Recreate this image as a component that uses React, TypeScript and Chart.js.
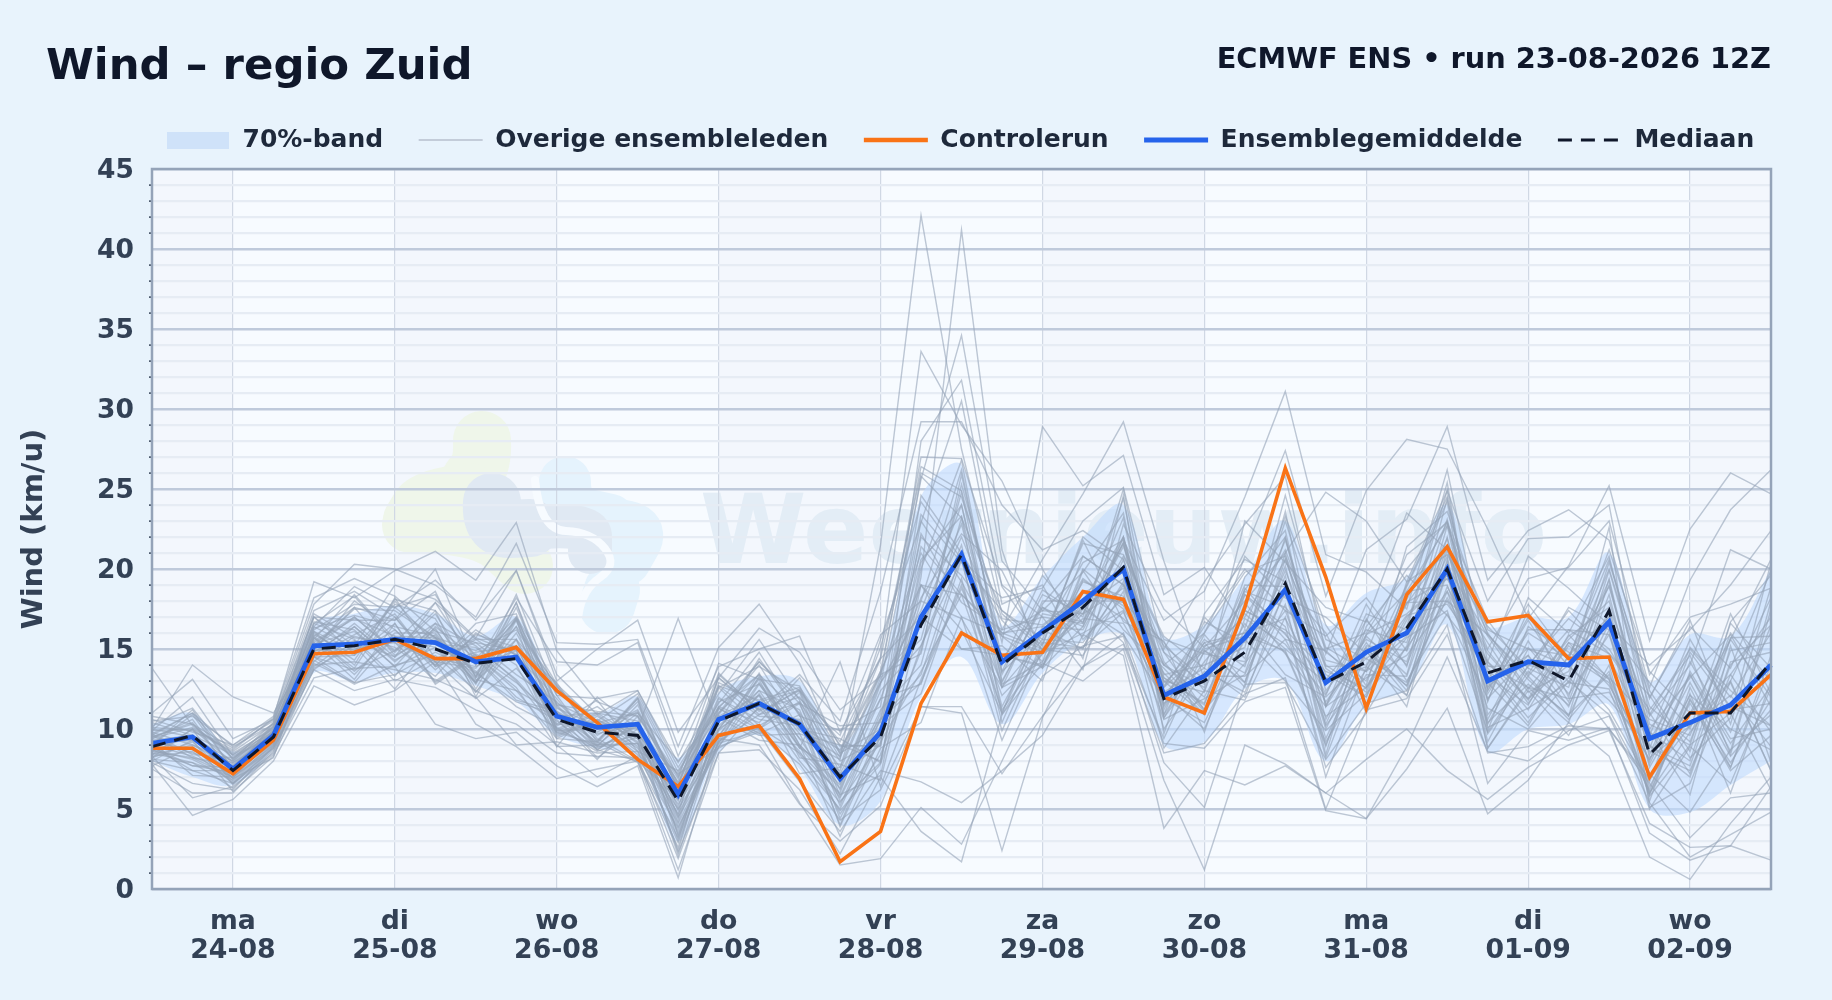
import React, { useEffect, useRef } from "react";
import { Chart, registerables } from "chart.js";

Chart.register(...registerables);

const dayNames = ["ma", "di", "wo", "do", "vr", "za", "zo", "ma", "di", "wo"];
const dayDates = ["24-08", "25-08", "26-08", "27-08", "28-08", "29-08", "30-08", "31-08", "01-09", "02-09"];
const stepLabels = [
  "23-08 12Z", "23-08 18Z",
  "24-08 00Z", "24-08 06Z", "24-08 12Z", "24-08 18Z",
  "25-08 00Z", "25-08 06Z", "25-08 12Z", "25-08 18Z",
  "26-08 00Z", "26-08 06Z", "26-08 12Z", "26-08 18Z",
  "27-08 00Z", "27-08 06Z", "27-08 12Z", "27-08 18Z",
  "28-08 00Z", "28-08 06Z", "28-08 12Z", "28-08 18Z",
  "29-08 00Z", "29-08 06Z", "29-08 12Z", "29-08 18Z",
  "30-08 00Z", "30-08 06Z", "30-08 12Z", "30-08 18Z",
  "31-08 00Z", "31-08 06Z", "31-08 12Z", "31-08 18Z",
  "01-09 00Z", "01-09 06Z", "01-09 12Z", "01-09 18Z",
  "02-09 00Z", "02-09 06Z", "02-09 12Z",
];

const control = [8.8, 8.8, 7.2, 9.3, 14.7, 14.8, 15.6, 14.4, 14.4, 15.1, 12.4, 10.4, 8.1, 6.4, 9.6, 10.2, 6.9, 1.7, 3.6, 11.6, 16.0, 14.6, 14.8, 18.6, 18.1, 12.0, 11.0, 17.6, 26.3, 19.5, 11.3, 18.4, 21.4, 16.7, 17.1, 14.4, 14.5, 7.0, 11.0, 11.1, 13.4];
const mean = [9.1, 9.5, 7.5, 9.6, 15.2, 15.3, 15.6, 15.4, 14.2, 14.5, 10.8, 10.1, 10.3, 5.9, 10.6, 11.6, 10.3, 6.9, 9.8, 17.0, 20.9, 14.2, 16.1, 18.0, 20.0, 12.1, 13.3, 15.7, 18.7, 12.9, 14.8, 16.0, 20.0, 13.0, 14.2, 14.0, 16.7, 9.4, 10.4, 11.5, 14.0];
const median = [8.9, 9.6, 7.4, 9.5, 15.0, 15.2, 15.6, 15.0, 14.1, 14.4, 10.6, 9.8, 9.6, 5.5, 10.5, 11.6, 10.3, 7.0, 9.5, 16.5, 20.9, 14.0, 16.0, 17.6, 20.1, 11.9, 13.0, 14.8, 19.1, 12.9, 14.2, 16.3, 20.0, 13.5, 14.3, 13.0, 17.4, 8.4, 11.0, 11.0, 14.2];
const bandUpper = [10.3, 11.0, 8.6, 10.2, 16.5, 17.2, 17.7, 17.2, 15.8, 17.0, 12.5, 11.0, 12.0, 8.2, 12.3, 13.3, 13.0, 9.0, 13.5, 24.5, 26.5, 16.5, 19.5, 22.0, 24.0, 15.8, 16.5, 19.5, 23.0, 16.5, 18.5, 19.5, 24.0, 16.5, 17.0, 17.0, 21.0, 13.0, 15.9, 15.8, 20.0];
const bandLower = [8.0, 7.0, 6.5, 8.8, 13.5, 13.0, 13.5, 13.5, 12.7, 11.7, 9.6, 8.8, 8.2, 3.0, 8.5, 9.6, 7.5, 4.0, 5.5, 12.0, 14.5, 10.3, 13.5, 15.5, 15.8, 9.0, 9.2, 12.5, 13.0, 8.0, 11.5, 12.5, 16.5, 8.6, 10.0, 10.3, 11.5, 5.0, 4.8, 6.5, 8.0];

const m01 = [10.2, 11.3, 8.1, 10.0, 16.3, 17.1, 16.4, 15.8, 13.2, 15.6, 11.0, 9.8, 11.2, 6.6, 11.7, 12.8, 9.4, 8.1, 21.5, 42.1, 27.5, 17.2, 15.0, 17.6, 19.4, 10.9, 14.8, 17.0, 21.2, 14.3, 13.6, 15.8, 21.5, 12.6, 15.1, 12.2, 15.9, 7.8, 13.4, 9.1, 12.7];
const m02 = [8.7, 8.1, 6.8, 9.2, 14.5, 13.7, 14.9, 16.6, 15.2, 13.0, 9.8, 10.6, 8.9, 4.1, 9.2, 10.9, 11.6, 5.5, 7.9, 19.5, 41.2, 21.2, 13.8, 16.4, 21.6, 14.2, 11.2, 14.1, 17.4, 10.3, 15.9, 17.2, 19.4, 14.7, 11.9, 15.8, 17.6, 11.0, 7.2, 14.0, 16.5];
const m03 = [9.5, 10.4, 7.2, 10.4, 17.4, 18.6, 17.0, 14.2, 13.8, 16.9, 12.1, 8.7, 10.4, 5.1, 12.6, 13.9, 12.4, 9.2, 14.5, 33.6, 29.0, 25.5, 20.0, 15.6, 18.2, 13.0, 12.3, 19.5, 22.4, 11.4, 13.2, 14.6, 18.0, 15.9, 13.1, 10.8, 19.4, 8.8, 15.1, 12.4, 10.2];
const m04 = [7.9, 6.6, 6.2, 8.9, 13.9, 15.8, 15.1, 13.3, 16.0, 14.6, 10.2, 11.4, 9.6, 7.2, 8.8, 10.1, 8.5, 6.0, 12.8, 25.6, 34.6, 20.5, 17.4, 19.8, 23.5, 11.2, 15.9, 12.9, 20.6, 13.8, 12.0, 18.9, 24.2, 9.9, 16.4, 14.8, 13.1, 6.0, 11.9, 7.4, 9.6];
const m05 = [9.9, 12.0, 8.3, 9.6, 15.9, 14.6, 18.1, 17.4, 14.6, 12.4, 9.4, 9.2, 11.9, 3.3, 10.4, 14.4, 10.9, 3.9, 9.5, 28.0, 31.8, 18.9, 15.3, 21.8, 16.7, 15.5, 9.8, 16.9, 15.3, 12.1, 17.8, 13.9, 22.7, 11.7, 18.2, 16.0, 20.8, 10.3, 9.0, 16.6, 13.8];
const m06 = [8.4, 9.0, 7.7, 9.9, 16.7, 16.2, 13.9, 15.1, 12.9, 17.6, 11.6, 10.4, 8.4, 6.0, 9.9, 12.1, 7.2, 7.6, 15.6, 22.9, 30.5, 17.8, 19.0, 14.4, 24.6, 9.7, 17.2, 20.6, 19.2, 8.9, 16.4, 19.6, 17.1, 13.8, 10.7, 13.2, 22.6, 5.1, 6.6, 13.0, 18.2];
const m07 = [10.6, 9.8, 9.0, 10.8, 18.2, 19.4, 18.3, 16.1, 15.4, 14.9, 8.9, 12.0, 10.0, 4.6, 13.4, 11.2, 13.4, 10.5, 18.6, 29.2, 29.2, 24.0, 21.2, 22.4, 20.6, 13.4, 14.0, 15.1, 24.6, 15.6, 14.4, 16.4, 25.4, 10.9, 13.9, 17.4, 14.7, 12.1, 8.2, 10.7, 20.4];
const m08 = [8.0, 7.4, 6.6, 9.0, 14.1, 12.9, 13.4, 14.8, 13.5, 11.7, 10.9, 8.9, 9.1, 2.4, 10.8, 9.6, 9.7, 4.7, 8.4, 14.9, 25.3, 16.2, 20.6, 24.7, 29.2, 20.5, 13.1, 18.4, 16.4, 7.6, 11.0, 15.2, 20.8, 8.8, 12.6, 11.9, 12.3, 8.1, 12.9, 8.3, 11.2];
const m09 = [9.3, 8.5, 7.9, 9.4, 15.4, 16.9, 15.8, 15.7, 14.9, 16.2, 12.7, 9.4, 8.0, 5.6, 11.9, 10.6, 10.2, 8.7, 13.6, 26.4, 24.9, 15.4, 28.9, 25.2, 27.1, 18.4, 20.1, 16.3, 23.3, 16.5, 12.7, 21.4, 23.6, 16.2, 15.0, 14.6, 18.9, 9.9, 5.9, 15.2, 7.9];
const m10 = [9.0, 11.2, 7.4, 10.2, 17.0, 15.2, 19.0, 18.1, 15.7, 19.9, 13.4, 10.9, 12.4, 7.9, 12.2, 15.6, 11.8, 6.6, 10.7, 20.6, 23.3, 13.6, 15.9, 20.4, 21.8, 16.8, 18.6, 24.5, 31.1, 20.9, 19.8, 17.5, 26.2, 14.2, 20.8, 18.8, 16.5, 14.0, 16.2, 19.0, 22.4];
const m11 = [8.2, 10.0, 8.7, 10.7, 19.2, 18.2, 19.9, 21.1, 19.3, 22.9, 14.9, 11.7, 10.8, 6.9, 14.1, 13.1, 12.7, 7.2, 11.9, 18.2, 22.2, 19.9, 14.8, 17.2, 18.8, 12.7, 16.0, 21.1, 27.4, 18.3, 24.9, 28.1, 27.5, 22.5, 16.9, 20.2, 25.2, 15.5, 22.5, 26.0, 24.7];
const m12 = [11.0, 13.1, 9.4, 10.6, 17.8, 20.3, 20.0, 19.0, 17.0, 21.6, 15.4, 15.3, 15.6, 8.9, 15.1, 17.8, 14.1, 8.4, 15.1, 24.2, 20.6, 18.2, 18.8, 23.0, 25.1, 15.0, 19.2, 22.8, 25.8, 14.7, 21.2, 23.1, 28.9, 19.3, 22.4, 23.7, 21.8, 12.6, 19.3, 23.7, 26.2];
const m13 = [13.8, 10.2, 8.4, 9.8, 16.4, 18.9, 17.6, 19.3, 16.8, 19.9, 13.0, 15.0, 16.8, 9.8, 13.2, 16.3, 14.8, 11.2, 13.3, 27.0, 26.9, 19.0, 17.0, 13.7, 22.8, 17.5, 15.1, 18.0, 21.0, 24.8, 23.0, 19.2, 24.9, 18.0, 21.9, 22.0, 24.0, 10.8, 14.0, 21.2, 20.0];
const m14 = [10.0, 14.0, 12.0, 11.0, 15.0, 17.6, 16.8, 20.0, 14.0, 18.2, 14.2, 14.0, 15.4, 8.3, 13.9, 15.0, 15.8, 9.8, 14.4, 26.0, 24.5, 16.9, 16.5, 18.5, 19.8, 14.8, 12.8, 23.0, 20.4, 17.6, 16.7, 23.5, 21.2, 15.0, 19.4, 20.1, 23.0, 13.4, 17.0, 17.8, 18.8];
const m15 = [8.6, 9.6, 6.9, 9.7, 14.9, 15.5, 14.5, 16.3, 12.3, 15.2, 11.3, 10.2, 10.0, 16.9, 10.2, 12.4, 8.8, 14.2, 6.4, 13.1, 19.0, 12.1, 14.7, 16.0, 17.4, 10.6, 11.9, 13.4, 18.5, 10.0, 15.2, 14.9, 19.9, 10.4, 12.8, 10.9, 13.4, 7.2, 4.8, 8.7, 10.9];
const m16 = [7.5, 6.0, 6.0, 8.6, 13.7, 12.4, 13.1, 12.6, 11.2, 10.3, 8.5, 8.3, 8.2, 1.9, 8.9, 9.8, 5.4, 1.5, 1.9, 5.1, 2.8, 8.0, 13.3, 15.2, 15.8, 7.9, 5.1, 12.8, 12.9, 8.1, 11.6, 12.4, 16.5, 6.6, 9.9, 9.3, 10.1, 3.5, 1.8, 2.7, 6.4];
const m17 = [7.8, 4.6, 5.6, 8.0, 12.7, 11.5, 12.4, 14.2, 10.3, 8.9, 6.9, 7.5, 8.0, 1.2, 8.5, 8.7, 6.2, 2.2, 7.0, 3.6, 1.7, 10.9, 14.1, 13.0, 15.0, 6.8, 1.2, 9.0, 7.8, 6.0, 4.4, 7.5, 11.3, 4.7, 6.8, 10.4, 8.3, 2.0, 0.6, 4.1, 7.0];
const m18 = [8.3, 5.7, 6.4, 8.4, 13.2, 13.8, 13.9, 10.3, 9.4, 9.8, 7.7, 6.4, 7.7, 0.7, 9.4, 9.0, 5.3, 3.0, 5.2, 11.4, 11.0, 2.4, 10.7, 15.9, 14.6, 3.8, 7.4, 6.5, 7.7, 6.0, 8.1, 10.0, 7.4, 5.6, 7.6, 9.0, 9.9, 4.1, 2.6, 2.7, 1.8];
const m19 = [9.2, 7.1, 7.0, 8.8, 14.0, 14.2, 13.7, 13.1, 12.0, 9.0, 9.2, 8.5, 8.6, 2.9, 9.7, 10.0, 6.7, 3.6, 7.4, 6.7, 5.4, 7.4, 9.6, 13.9, 16.0, 9.1, 8.8, 11.7, 12.6, 4.9, 4.4, 8.9, 14.5, 8.6, 8.0, 9.9, 10.8, 5.4, 2.0, 3.4, 4.8];
const m20 = [8.1, 7.9, 6.3, 8.7, 14.3, 12.8, 14.0, 14.6, 12.4, 11.0, 9.0, 7.0, 8.3, 3.8, 9.1, 9.9, 7.8, 4.3, 6.2, 11.4, 11.4, 7.2, 10.8, 13.9, 15.3, 8.5, 9.1, 12.2, 13.2, 5.0, 11.2, 11.9, 15.9, 8.5, 8.9, 10.2, 10.0, 6.6, 3.2, 5.7, 6.0];
const m21 = [9.8, 9.0, 8.0, 9.9, 15.8, 17.6, 14.6, 15.9, 12.9, 16.0, 11.4, 9.0, 11.0, 6.4, 13.2, 11.2, 12.0, 8.5, 10.0, 22.0, 19.6, 16.0, 15.0, 19.4, 17.5, 13.5, 10.9, 18.4, 15.6, 14.9, 12.5, 17.9, 19.4, 15.4, 11.6, 15.2, 13.2, 10.6, 9.6, 15.6, 12.0];
const m22 = [9.4, 10.6, 7.1, 9.5, 14.5, 15.9, 17.2, 13.9, 15.6, 14.0, 9.4, 10.6, 9.4, 4.4, 11.0, 13.4, 9.0, 6.3, 13.2, 15.6, 24.8, 13.0, 17.6, 15.8, 22.0, 11.4, 15.4, 12.6, 21.0, 10.6, 15.8, 13.4, 22.0, 10.6, 15.5, 11.7, 18.4, 8.4, 14.2, 9.8, 16.5];
const m23 = [8.9, 7.4, 7.4, 9.3, 15.7, 13.4, 16.0, 16.0, 13.1, 12.4, 11.0, 8.2, 10.0, 3.4, 9.6, 12.4, 11.2, 5.2, 11.0, 19.0, 16.2, 11.0, 16.4, 18.6, 16.9, 14.0, 12.0, 16.6, 13.4, 12.0, 14.4, 12.9, 18.2, 13.6, 10.4, 14.6, 12.9, 6.4, 11.0, 13.4, 9.8];
const m24 = [10.4, 9.6, 8.4, 10.1, 15.6, 18.4, 15.6, 14.0, 16.6, 17.2, 10.3, 11.8, 8.6, 7.4, 11.4, 10.4, 13.2, 8.9, 9.0, 24.6, 21.0, 16.8, 14.2, 20.8, 19.0, 15.2, 13.1, 19.0, 18.9, 16.0, 11.0, 19.2, 20.9, 16.4, 13.8, 12.6, 20.4, 12.4, 8.6, 16.7, 19.6];
const m25 = [8.8, 9.6, 6.7, 9.1, 14.2, 16.4, 14.3, 15.7, 13.0, 15.2, 9.9, 10.0, 9.7, 2.1, 10.0, 13.1, 8.2, 7.8, 6.8, 17.0, 15.0, 14.6, 13.9, 17.8, 15.4, 9.4, 14.9, 12.9, 19.6, 8.4, 16.9, 13.0, 17.2, 11.9, 14.6, 10.8, 16.2, 5.5, 12.6, 7.6, 14.6];
const m26 = [9.6, 8.2, 7.7, 9.8, 16.1, 14.0, 18.2, 14.4, 15.4, 13.4, 11.7, 9.3, 11.7, 6.2, 12.0, 10.0, 12.3, 5.8, 11.2, 14.0, 23.2, 11.0, 17.2, 16.7, 21.4, 14.8, 11.2, 17.4, 16.2, 13.6, 12.6, 17.0, 19.6, 14.9, 11.8, 15.4, 14.4, 9.6, 15.6, 11.2, 11.6];
const m27 = [9.0, 10.9, 7.5, 9.5, 15.1, 17.0, 14.9, 17.4, 12.0, 16.8, 9.9, 10.9, 9.1, 5.3, 9.3, 12.9, 9.7, 9.0, 8.9, 21.4, 18.4, 15.8, 14.8, 19.2, 18.3, 11.9, 15.6, 13.9, 22.0, 12.4, 15.6, 14.2, 21.4, 10.3, 15.0, 13.9, 11.8, 8.9, 7.7, 14.9, 15.4];
const m28 = [8.5, 7.9, 7.0, 9.0, 16.6, 15.6, 13.3, 16.4, 14.4, 11.8, 11.1, 8.7, 10.3, 4.9, 11.3, 10.0, 11.6, 6.2, 11.9, 12.8, 20.6, 10.4, 16.2, 15.0, 20.6, 13.0, 10.9, 16.2, 14.8, 9.0, 15.0, 12.7, 18.6, 14.0, 12.6, 10.4, 17.6, 7.6, 12.1, 10.0, 8.7];
const m29 = [10.1, 9.9, 8.6, 10.3, 14.9, 18.0, 16.2, 13.7, 15.9, 15.1, 12.9, 9.2, 12.0, 7.0, 10.9, 14.0, 10.0, 9.4, 7.9, 20.4, 24.0, 13.4, 18.4, 17.2, 23.2, 10.9, 17.0, 14.4, 23.6, 11.4, 17.2, 16.2, 24.9, 11.8, 17.4, 12.0, 19.9, 11.4, 9.2, 16.0, 13.0];
const m30 = [9.7, 8.4, 8.2, 9.6, 15.7, 13.8, 17.6, 15.7, 12.9, 17.9, 10.8, 11.0, 9.4, 5.8, 12.9, 11.7, 12.4, 6.8, 12.9, 16.4, 22.0, 15.8, 13.8, 20.0, 17.9, 15.4, 12.4, 18.6, 17.6, 14.8, 13.0, 18.6, 22.7, 15.9, 13.3, 16.2, 15.9, 9.3, 13.4, 8.6, 18.0];
const m31 = [8.4, 10.0, 6.5, 8.9, 14.9, 15.0, 15.4, 13.0, 14.7, 12.9, 10.6, 8.1, 10.8, 3.0, 11.3, 9.7, 10.9, 4.4, 9.6, 18.0, 16.9, 12.6, 15.6, 15.4, 19.0, 12.3, 13.8, 12.0, 18.8, 9.4, 14.9, 11.4, 20.6, 9.2, 14.0, 13.3, 10.0, 6.9, 10.2, 13.0, 7.4];
const m32 = [9.1, 9.3, 7.8, 9.7, 15.3, 16.1, 13.9, 16.6, 13.3, 16.4, 9.6, 10.5, 8.6, 5.0, 9.1, 13.3, 8.8, 7.4, 13.4, 14.7, 25.9, 14.4, 17.6, 16.4, 21.7, 10.7, 14.2, 17.2, 15.0, 12.9, 13.9, 17.9, 18.0, 13.3, 11.5, 15.9, 13.1, 8.0, 14.8, 11.4, 10.2];
const m33 = [10.5, 10.8, 9.0, 10.5, 16.2, 17.8, 17.6, 18.4, 14.4, 17.0, 12.8, 10.4, 11.0, 8.0, 11.0, 14.2, 11.6, 10.2, 10.4, 23.4, 20.4, 17.4, 15.2, 22.0, 19.9, 14.0, 16.0, 19.8, 20.8, 15.0, 16.0, 20.0, 23.0, 12.4, 16.0, 14.4, 21.2, 13.6, 11.0, 15.6, 20.6];
const m34 = [7.7, 8.9, 6.6, 8.5, 14.5, 12.9, 15.8, 14.2, 11.9, 13.8, 10.8, 9.2, 7.9, 2.6, 10.7, 9.3, 9.0, 3.3, 8.8, 10.4, 17.0, 9.3, 15.0, 14.6, 18.6, 8.8, 12.4, 11.8, 17.0, 7.0, 13.9, 12.1, 19.8, 8.8, 12.4, 9.6, 14.0, 5.0, 8.9, 6.6, 12.6];
const m35 = [9.3, 9.6, 7.3, 9.9, 17.0, 14.7, 16.2, 14.0, 16.2, 14.6, 11.9, 8.9, 11.5, 6.5, 13.5, 11.1, 12.4, 8.2, 14.4, 17.0, 22.8, 12.6, 18.0, 18.0, 22.0, 12.9, 15.0, 15.8, 21.8, 14.0, 12.3, 18.1, 22.9, 13.9, 14.0, 16.9, 15.0, 10.9, 15.0, 12.0, 16.0];
const m36 = [8.7, 7.7, 7.6, 9.2, 15.8, 13.6, 15.7, 15.1, 12.3, 15.6, 9.7, 10.5, 9.7, 4.2, 10.8, 12.1, 8.9, 5.9, 7.1, 19.0, 15.0, 15.2, 13.0, 19.9, 16.2, 13.8, 11.1, 17.9, 14.7, 11.4, 15.4, 12.4, 21.2, 12.9, 10.2, 14.6, 17.0, 7.0, 11.6, 7.6, 14.0];
const m37 = [8.0, 9.3, 6.1, 8.3, 13.8, 15.2, 12.5, 15.6, 13.6, 11.4, 10.1, 8.6, 9.5, 2.3, 8.5, 11.4, 10.5, 4.0, 10.2, 12.2, 19.4, 9.9, 15.4, 15.1, 19.2, 10.0, 13.6, 12.3, 17.8, 8.2, 14.8, 12.7, 19.9, 9.7, 13.3, 10.6, 13.6, 5.8, 9.0, 11.0, 6.2];
const m38 = [9.4, 10.1, 8.5, 10.0, 14.6, 16.6, 14.5, 17.9, 14.0, 16.8, 11.1, 9.7, 10.3, 6.7, 12.6, 10.2, 11.7, 8.0, 9.4, 22.2, 17.9, 16.2, 17.0, 16.6, 22.0, 13.2, 11.5, 18.8, 15.9, 13.1, 16.2, 15.4, 23.1, 12.6, 16.8, 12.9, 19.0, 10.0, 13.2, 15.9, 11.4];
const m39 = [9.0, 8.3, 7.2, 9.4, 16.0, 14.3, 18.0, 15.3, 15.1, 13.1, 10.3, 10.3, 8.8, 4.7, 9.5, 13.5, 9.0, 6.5, 12.4, 15.2, 21.5, 11.4, 16.2, 18.5, 17.9, 12.6, 14.9, 13.5, 20.2, 10.2, 13.7, 17.1, 17.8, 14.2, 11.2, 15.4, 12.7, 8.6, 7.4, 13.4, 17.0];
const m40 = [10.8, 10.3, 8.8, 10.6, 17.0, 16.8, 16.8, 18.6, 13.2, 18.4, 12.1, 11.9, 12.4, 7.6, 11.6, 14.8, 10.8, 9.9, 11.4, 25.8, 23.2, 17.4, 15.6, 21.6, 20.9, 15.8, 13.8, 20.8, 18.2, 17.0, 14.7, 20.9, 22.9, 16.8, 13.4, 17.6, 16.2, 12.9, 10.0, 17.2, 12.2];
const m41 = [8.2, 9.2, 6.9, 8.2, 15.4, 13.1, 16.6, 12.9, 14.6, 12.6, 8.9, 9.0, 9.1, 3.6, 10.0, 11.6, 8.0, 5.0, 10.6, 12.9, 18.8, 12.8, 14.2, 17.5, 15.9, 11.9, 10.4, 15.6, 13.0, 9.9, 12.2, 15.1, 18.6, 11.3, 10.0, 13.0, 10.9, 6.2, 12.2, 6.0, 13.0];
const m42 = [9.6, 11.0, 8.9, 10.3, 15.5, 17.0, 14.8, 17.2, 13.3, 17.9, 11.5, 11.1, 10.8, 7.1, 12.7, 11.8, 12.6, 9.0, 8.0, 20.0, 26.8, 13.6, 18.7, 17.0, 24.4, 11.5, 16.7, 15.4, 23.0, 15.1, 13.6, 19.0, 24.5, 12.4, 17.0, 13.9, 20.0, 11.9, 16.8, 10.3, 18.9];
const m43 = [8.6, 8.2, 7.0, 9.3, 16.1, 14.9, 17.0, 13.9, 14.8, 15.2, 10.0, 8.8, 10.2, 4.5, 8.9, 12.8, 9.4, 5.7, 10.6, 13.4, 21.0, 12.6, 13.9, 19.3, 17.7, 13.2, 11.6, 17.4, 16.0, 11.7, 15.1, 12.1, 18.9, 14.2, 11.9, 14.0, 11.2, 6.7, 13.6, 9.4, 10.0];
const m44 = [9.9, 10.0, 7.9, 9.8, 14.8, 16.4, 14.2, 16.2, 12.8, 17.0, 11.5, 9.1, 11.9, 6.1, 11.4, 13.4, 11.0, 7.6, 13.6, 19.0, 18.4, 16.0, 16.4, 16.2, 20.8, 15.6, 14.7, 14.2, 19.9, 13.4, 12.0, 16.8, 21.9, 13.0, 14.6, 11.4, 17.2, 9.0, 7.0, 14.2, 14.8];
const m45 = [9.2, 8.7, 7.5, 9.6, 17.2, 15.7, 15.4, 14.2, 15.7, 14.7, 9.5, 10.8, 9.2, 5.5, 12.7, 10.8, 10.6, 7.2, 9.0, 23.0, 19.2, 14.6, 14.0, 18.0, 18.0, 12.0, 15.4, 16.0, 16.9, 12.2, 16.8, 14.0, 20.2, 15.8, 12.3, 13.6, 19.3, 8.2, 10.2, 12.1, 8.9];
const m46 = [9.5, 10.3, 8.2, 10.2, 15.2, 17.5, 17.4, 15.7, 13.5, 16.4, 12.7, 9.6, 11.1, 6.3, 10.0, 13.2, 9.9, 8.3, 12.9, 17.4, 24.0, 12.9, 17.8, 20.8, 19.0, 14.0, 12.6, 18.7, 22.0, 11.5, 15.9, 18.6, 19.0, 12.2, 16.2, 16.2, 14.7, 11.2, 14.6, 8.4, 17.5];
const m47 = [8.9, 7.7, 7.3, 9.1, 14.5, 14.6, 16.6, 12.8, 14.5, 12.0, 10.5, 8.7, 8.0, 3.2, 9.2, 11.3, 8.6, 4.9, 7.8, 15.2, 20.6, 10.9, 15.0, 15.1, 17.3, 11.6, 13.3, 13.3, 15.6, 10.8, 12.6, 15.7, 17.4, 9.8, 13.6, 11.5, 16.6, 6.0, 9.8, 12.9, 7.4];
const m48 = [10.0, 9.5, 8.0, 10.1, 16.4, 15.1, 17.8, 16.9, 12.5, 16.9, 10.0, 11.0, 10.5, 6.0, 13.2, 10.9, 12.5, 8.6, 13.4, 21.0, 17.0, 15.9, 17.4, 17.2, 21.6, 10.7, 15.2, 16.0, 20.6, 13.9, 14.0, 17.8, 21.4, 16.0, 12.5, 15.6, 18.0, 9.8, 8.0, 15.7, 15.8];
const m49 = [8.3, 8.6, 6.6, 8.8, 13.7, 15.5, 13.0, 14.4, 13.9, 14.9, 9.8, 9.0, 9.6, 3.9, 8.9, 12.2, 8.4, 5.4, 9.2, 13.6, 18.4, 11.2, 14.7, 16.9, 16.6, 12.2, 10.0, 15.8, 14.9, 9.2, 13.4, 13.3, 20.4, 10.1, 11.3, 12.9, 12.5, 5.9, 11.8, 7.9, 11.8];
const m50 = [9.7, 11.0, 8.1, 10.4, 16.6, 18.3, 15.4, 17.9, 15.6, 15.6, 12.6, 10.5, 12.2, 7.3, 11.3, 14.2, 11.9, 9.6, 15.9, 18.0, 26.2, 14.0, 19.6, 16.6, 25.0, 12.6, 16.4, 20.0, 17.4, 15.8, 18.2, 14.9, 24.4, 13.0, 17.8, 14.4, 20.6, 12.0, 16.4, 13.8, 19.9];

const members = [m01, m02, m03, m04, m05, m06, m07, m08, m09, m10, m11, m12, m13, m14, m15, m16, m17, m18, m19, m20, m21, m22, m23, m24, m25, m26, m27, m28, m29, m30, m31, m32, m33, m34, m35, m36, m37, m38, m39, m40, m41, m42, m43, m44, m45, m46, m47, m48, m49, m50];

const FONT = "'DejaVu Sans', sans-serif";
const BAND = "rgba(191,219,254,0.6)";
const MEMBER = "rgba(148,163,184,0.6)";
const LEGEND_PAD = 35.5;

function blob(ctx: CanvasRenderingContext2D, pts: number[][], width: number, color: string) {
  ctx.beginPath();
  ctx.moveTo(pts[0][0], pts[0][1]);
  for (let i = 1; i < pts.length - 1; i++) {
    const mx = (pts[i][0] + pts[i + 1][0]) / 2;
    const my = (pts[i][1] + pts[i + 1][1]) / 2;
    ctx.quadraticCurveTo(pts[i][0], pts[i][1], mx, my);
  }
  const last = pts[pts.length - 1];
  ctx.lineTo(last[0], last[1]);
  ctx.lineWidth = width;
  ctx.lineCap = "round";
  ctx.lineJoin = "round";
  ctx.strokeStyle = color;
  ctx.stroke();
}

const backdrop = {
  id: "backdrop",
  afterLayout(chart: any) {
    // the legend row sits higher and further right than its default slot
    chart.legend.left = 166 - LEGEND_PAD;
    chart.legend.right = 1832;
    chart.legend.top -= 6.5;
  },
  beforeDraw(chart: any) {
    const { ctx, chartArea: a, scales } = chart;
    ctx.save();
    ctx.fillStyle = "#f7fbff";
    ctx.fillRect(a.left, a.top, a.right - a.left, a.bottom - a.top);
    // alternate day shading
    ctx.fillStyle = "rgba(222,232,245,0.16)";
    const x = scales.x;
    const edges = [0, 2, 6, 10, 14, 18, 22, 26, 30, 34, 38, 40];
    for (let i = 0; i < edges.length - 1; i += 2) {
      const l = x.getPixelForValue(edges[i]);
      const r = x.getPixelForValue(edges[i + 1]);
      ctx.fillRect(l, a.top, r - l, a.bottom - a.top);
    }
    ctx.beginPath();
    ctx.rect(a.left, a.top, a.right - a.left, a.bottom - a.top);
    ctx.clip();
    // watermark logo
    const green = "#eff6ea";
    const blue = "#e5f3fd";
    const slate = "#e0e9f3";
    blob(ctx, [[482, 440], [483, 462], [470, 480]], 58, green);
    blob(ctx, [[470, 490], [425, 495], [410, 520]], 54, green);
    blob(ctx, [[410, 525], [480, 525], [525, 566]], 56, green);
    blob(ctx, [[565, 482], [565, 510], [610, 520]], 52, blue);
    blob(ctx, [[610, 525], [645, 525], [625, 560]], 52, blue);
    blob(ctx, [[612, 590], [607, 606]], 56, blue);
    blob(ctx, [[492, 502], [490, 530], [530, 528]], 58, slate);
    blob(ctx, [[530, 528], [590, 522], [590, 552]], 44, slate);
    blob(ctx, [[535, 480], [540, 530], [592, 532], [618, 565], [582, 590], [575, 640]], 8, "#f7fbff");
    ctx.fillStyle = "#e3edf6";
    ctx.font = "bold 96.5px 'DejaVu Sans'";
    ctx.textAlign = "left";
    ctx.textBaseline = "alphabetic";
    ctx.fillText("Weernieuw.info", 700, 563);
    ctx.restore();
  },
  afterDatasetsDraw(chart: any) {
    const { ctx, chartArea: a } = chart;
    ctx.save();
    ctx.strokeStyle = "#94a3b8";
    ctx.lineWidth = 2.5;
    ctx.strokeRect(a.left, a.top, a.right - a.left, a.bottom - a.top);
    ctx.restore();
  },
};

function bandSwatch() {
  const c = document.createElement("canvas");
  c.width = 62;
  c.height = 17;
  const g = c.getContext("2d")!;
  g.fillStyle = "#cfe2f9";
  g.fillRect(0, 0, 62, 17);
  return c;
}

export default function App() {
  const ref = useRef<HTMLCanvasElement | null>(null);

  useEffect(() => {
    document.body.style.margin = "0";
    document.body.style.background = "#e8f3fc";
    const swatch = bandSwatch();
    const line = { pointRadius: 0, pointHoverRadius: 0, fill: false, tension: 0 };
    const legendColor = "#1e293b";
    const chart = new Chart(ref.current!, {
      type: "line",
      plugins: [backdrop],
      data: {
        labels: stepLabels,
        datasets: [
          { ...line, label: "p15", data: bandLower, borderWidth: 0, borderColor: "transparent", tension: 0.35, order: 60 },
          { ...line, label: "70%-band", data: bandUpper, borderWidth: 0, borderColor: "transparent", backgroundColor: BAND, fill: 0, tension: 0.35, order: 59 },
          ...members.map((m, i) => ({ ...line, label: `Lid ${i + 1}`, data: m, borderColor: MEMBER, borderWidth: 1.4, order: 10 })),
          { ...line, label: "Controlerun", data: control, borderColor: "#f97316", borderWidth: 3.6, order: 3 },
          { ...line, label: "Ensemblegemiddelde", data: mean, borderColor: "#2563eb", borderWidth: 4.8, order: 2 },
          { ...line, label: "Mediaan", data: median, borderColor: "#0f172a", borderWidth: 3, borderDash: [14, 9], order: 1 },
        ],
      },
      options: {
        responsive: false,
        animation: false,
        devicePixelRatio: 1,
        layout: { padding: { top: 98.5, right: 61, left: 0, bottom: 0 } },
        plugins: {
          tooltip: { enabled: false },
          title: { display: false },
          legend: {
            display: true,
            position: "top",
            align: "start",
            maxHeight: 70.5,
            labels: {
              usePointStyle: true,
              pointStyleWidth: 64,
              boxHeight: 17,
              padding: LEGEND_PAD,
              color: legendColor,
              font: { family: FONT, weight: "bold", size: 25 },
              generateLabels: () => [
                { text: "70%-band", pointStyle: swatch, fillStyle: "#cfe2f9", strokeStyle: "transparent", lineWidth: 0, fontColor: legendColor, datasetIndex: 1 },
                { text: "Overige ensembleleden", pointStyle: "line", fillStyle: "transparent", strokeStyle: "#c3ccd9", lineWidth: 2, fontColor: legendColor, datasetIndex: 2 },
                { text: "Controlerun", pointStyle: "line", fillStyle: "transparent", strokeStyle: "#f97316", lineWidth: 4.4, fontColor: legendColor, datasetIndex: 52 },
                { text: "Ensemblegemiddelde", pointStyle: "line", fillStyle: "transparent", strokeStyle: "#2563eb", lineWidth: 5, fontColor: legendColor, datasetIndex: 53 },
                { text: "Mediaan", pointStyle: "line", fillStyle: "transparent", strokeStyle: "#0f172a", lineWidth: 3, lineDash: [14, 9], fontColor: legendColor, datasetIndex: 54 },
              ],
            },
          },
        },
        scales: {
          x: {
            type: "category",
            afterBuildTicks: (s: any) => {
              s.ticks = s.ticks.filter((t: any) => t.value % 4 === 2);
            },
            afterFit: (s: any) => {
              s.height = 111;
            },
            border: { display: false },
            grid: { color: "#d0d8e4", lineWidth: 1.2, drawTicks: false },
            ticks: {
              autoSkip: false,
              maxRotation: 0,
              padding: 18,
              color: "#334155",
              font: { family: FONT, weight: "bold", size: 26.7, lineHeight: 1.1 },
              callback: (v: any) => {
                const d = (Number(v) - 2) / 4;
                return [dayNames[d], dayDates[d]];
              },
            },
          },
          y: {
            min: 0,
            max: 45,
            afterFit: (s: any) => {
              s.width = 152;
            },
            border: { display: false },
            grid: {
              color: (c: any) => (c.tick.value % 5 === 0 ? "#bfcadb" : "#e6ecf4"),
              lineWidth: (c: any) => (c.tick.value % 5 === 0 ? 2.4 : 2.2),
              tickColor: (c: any) => (c.tick.value % 5 === 0 ? "transparent" : "#334155"),
              tickLength: 3,
              tickWidth: 1.5,
            },
            title: {
              display: true,
              text: "Wind (km/u)",
              color: "#334155",
              font: { family: FONT, weight: "bold", size: 29 },
              padding: { top: 17, bottom: 0 },
            },
            ticks: {
              stepSize: 1,
              autoSkip: false,
              padding: 15,
              labelOffset: 2,
              color: "#334155",
              font: { family: FONT, weight: "bold", size: 26.5 },
              callback: (v: any) => (Number(v) % 5 === 0 ? String(v) : ""),
            },
          },
        },
      } as any,
    } as any);
    return () => chart.destroy();
  }, []);

  return (
    <div style={{ position: "relative", width: 1832, height: 1000, background: "#e8f3fc", overflow: "hidden", fontFamily: FONT }}>
      <canvas ref={ref} width={1832} height={1000} style={{ position: "absolute", left: 0, top: 0, width: 1832, height: 1000 }} />
      <div style={{ position: "absolute", left: 46, top: 43, fontSize: 43.4, lineHeight: 1, fontWeight: "bold", color: "#0f172a", whiteSpace: "nowrap" }}>
        Wind – regio Zuid
      </div>
      <div style={{ position: "absolute", right: 61, top: 43.5, fontSize: 28.8, lineHeight: 1, fontWeight: "bold", color: "#0f172a", whiteSpace: "nowrap" }}>
        ECMWF ENS • run 23-08-2026 12Z
      </div>
    </div>
  );
}
